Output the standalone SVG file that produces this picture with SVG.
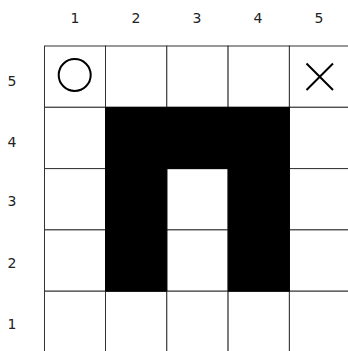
<svg xmlns="http://www.w3.org/2000/svg" width="348" height="351" viewBox="0 0 348 351">
<style>
.lbl{font-family:"DejaVu Sans","Liberation Sans",sans-serif;font-size:14px;fill:#222;text-anchor:middle}
.cell{fill:#fff;stroke:#333;stroke-width:1}
.blk{fill:#000;stroke:#000;stroke-width:1}
.mark{fill:none;stroke:#000;stroke-width:2}
</style>
<rect width="348" height="351" fill="#fff"/>
<g id="col-labels">
<text class="lbl" x="75" y="23">1</text>
<text class="lbl" x="136" y="23">2</text>
<text class="lbl" x="197" y="23">3</text>
<text class="lbl" x="258" y="23">4</text>
<text class="lbl" x="319" y="23">5</text>
</g>
<g id="row-labels">
<text class="lbl" x="12" y="86">5</text>
<text class="lbl" x="12" y="147">4</text>
<text class="lbl" x="12" y="206">3</text>
<text class="lbl" x="12" y="268">2</text>
<text class="lbl" x="12" y="329">1</text>
</g>
<g id="grid">
<rect class="cell" x="44.5" y="46" width="61" height="61.3"/>
<rect class="cell" x="105.5" y="46" width="61.3" height="61.3"/>
<rect class="cell" x="166.8" y="46" width="61.3" height="61.3"/>
<rect class="cell" x="228.1" y="46" width="61.3" height="61.3"/>
<rect class="cell" x="289.4" y="46" width="61.3" height="61.3"/>
<rect class="cell" x="44.5" y="107.3" width="61" height="61.3"/>
<rect class="cell" x="289.4" y="107.3" width="61.3" height="61.3"/>
<rect class="cell" x="44.5" y="168.6" width="61" height="61.3"/>
<rect class="cell" x="166.8" y="168.6" width="61.3" height="61.3"/>
<rect class="cell" x="289.4" y="168.6" width="61.3" height="61.3"/>
<rect class="cell" x="44.5" y="229.9" width="61" height="61.3"/>
<rect class="cell" x="166.8" y="229.9" width="61.3" height="61.3"/>
<rect class="cell" x="289.4" y="229.9" width="61.3" height="61.3"/>
<rect class="cell" x="44.5" y="291.2" width="61" height="61.3"/>
<rect class="cell" x="105.5" y="291.2" width="61.3" height="61.3"/>
<rect class="cell" x="166.8" y="291.2" width="61.3" height="61.3"/>
<rect class="cell" x="228.1" y="291.2" width="61.3" height="61.3"/>
<rect class="cell" x="289.4" y="291.2" width="61.3" height="61.3"/>
</g>
<g id="filled">
<path class="blk" d="M105.5,107.3 H289.4 V291.2 H228.1 V168.6 H166.8 V291.2 H105.5 Z"/>
</g>
<g id="circle-mark">
<circle class="mark" cx="74.7" cy="75" r="16"/>
</g>
<g id="cross-mark">
<path class="mark" d="M306.5,63.5 L333,90 M333,63.5 L306.5,90" stroke-width="1.6"/>
</g>
</svg>
